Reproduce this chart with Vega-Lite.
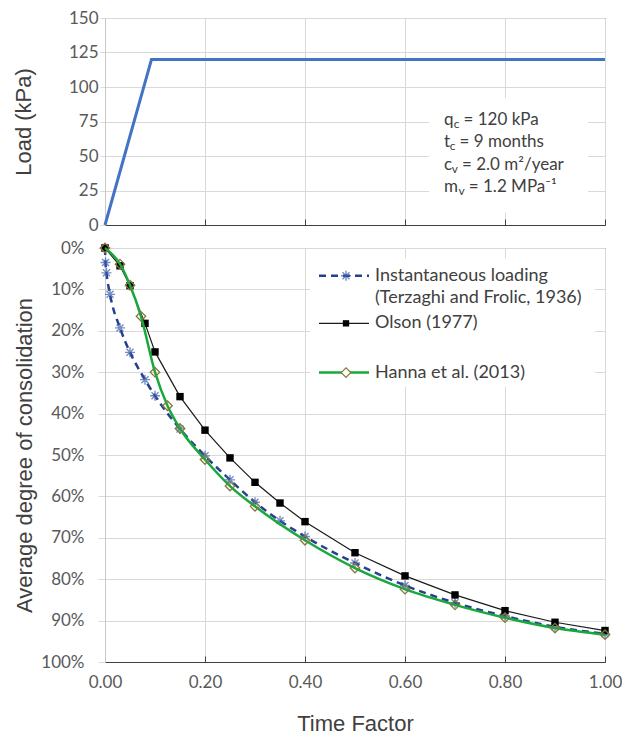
{
  "$schema": "https://vega.github.io/schema/vega-lite/v6.json",
  "padding": {"left": 11, "top": 8, "right": 2, "bottom": 0},
  "spacing": 23,
  "bounds": "flush",
  "config": {
    "view": {"stroke": "#404040", "strokeWidth": 1},
    "axis": {
      "gridColor": "#d9d9d9", "gridWidth": 1, "labelFlush": false,
      "labelFont": "Lato", "labelFontSize": 17, "labelColor": "#595959",
      "titleFont": "Liberation Sans", "titleFontSize": 22, "titleFontWeight": "normal", "titleColor": "#404040"
    },
    "text": {"font": "Lato", "fontSize": 17, "color": "#404040"}
  },
  "datasets": {
    "one": [{}],
    "load": [
      {"T": 0, "q": 0},
      {"T": 0.093, "q": 120},
      {"T": 1.0, "q": 120}
    ],
    "consol": [
      {"series": "Instantaneous", "T": 0, "U": 0},
      {"series": "Instantaneous", "T": 0.001, "U": 3.5},
      {"series": "Instantaneous", "T": 0.003, "U": 6.0},
      {"series": "Instantaneous", "T": 0.01, "U": 11.2},
      {"series": "Instantaneous", "T": 0.03, "U": 19.3},
      {"series": "Instantaneous", "T": 0.05, "U": 25.2},
      {"series": "Instantaneous", "T": 0.08, "U": 31.8},
      {"series": "Instantaneous", "T": 0.1, "U": 35.7},
      {"series": "Instantaneous", "T": 0.15, "U": 43.7},
      {"series": "Instantaneous", "T": 0.2, "U": 50.2},
      {"series": "Instantaneous", "T": 0.25, "U": 56.0},
      {"series": "Instantaneous", "T": 0.3, "U": 61.4},
      {"series": "Instantaneous", "T": 0.35, "U": 65.9},
      {"series": "Instantaneous", "T": 0.4, "U": 69.7},
      {"series": "Instantaneous", "T": 0.5, "U": 76.1},
      {"series": "Instantaneous", "T": 0.6, "U": 81.5},
      {"series": "Instantaneous", "T": 0.7, "U": 85.7},
      {"series": "Instantaneous", "T": 0.8, "U": 88.9},
      {"series": "Instantaneous", "T": 0.9, "U": 91.5},
      {"series": "Instantaneous", "T": 1.0, "U": 93.2},
      {"series": "Olson", "T": 0, "U": 0},
      {"series": "Olson", "T": 0.03, "U": 4.3},
      {"series": "Olson", "T": 0.05, "U": 9.1},
      {"series": "Olson", "T": 0.08, "U": 18.2},
      {"series": "Olson", "T": 0.1, "U": 25.1},
      {"series": "Olson", "T": 0.15, "U": 35.9},
      {"series": "Olson", "T": 0.2, "U": 44.0},
      {"series": "Olson", "T": 0.25, "U": 50.7},
      {"series": "Olson", "T": 0.3, "U": 56.6},
      {"series": "Olson", "T": 0.35, "U": 61.6},
      {"series": "Olson", "T": 0.4, "U": 66.1},
      {"series": "Olson", "T": 0.5, "U": 73.6},
      {"series": "Olson", "T": 0.6, "U": 79.2},
      {"series": "Olson", "T": 0.7, "U": 83.8},
      {"series": "Olson", "T": 0.8, "U": 87.6},
      {"series": "Olson", "T": 0.9, "U": 90.4},
      {"series": "Olson", "T": 1.0, "U": 92.4},
      {"series": "Hanna", "T": 0, "U": 0},
      {"series": "Hanna", "T": 0.03, "U": 3.9},
      {"series": "Hanna", "T": 0.05, "U": 9.0},
      {"series": "Hanna", "T": 0.072, "U": 16.5},
      {"series": "Hanna", "T": 0.1, "U": 30.0},
      {"series": "Hanna", "T": 0.125, "U": 38.1},
      {"series": "Hanna", "T": 0.15, "U": 43.6},
      {"series": "Hanna", "T": 0.2, "U": 51.1},
      {"series": "Hanna", "T": 0.25, "U": 57.5},
      {"series": "Hanna", "T": 0.3, "U": 62.4},
      {"series": "Hanna", "T": 0.4, "U": 70.6},
      {"series": "Hanna", "T": 0.5, "U": 77.3},
      {"series": "Hanna", "T": 0.6, "U": 82.4},
      {"series": "Hanna", "T": 0.7, "U": 86.2},
      {"series": "Hanna", "T": 0.8, "U": 89.3},
      {"series": "Hanna", "T": 0.9, "U": 91.8},
      {"series": "Hanna", "T": 1.0, "U": 93.4}
    ]
  },
  "vconcat": [
    {
      "width": 500,
      "height": 207,
      "layer": [
        {
          "data": {"name": "load"},
          "mark": {"type": "line", "color": "#4472C4", "strokeWidth": 3, "clip": false},
          "encoding": {
            "x": {
              "field": "T", "type": "quantitative",
              "scale": {"domain": [0, 1], "nice": false, "zero": false},
              "axis": {"values": [0, 0.2, 0.4, 0.6, 0.8, 1.0], "labels": false, "title": null,
                       "domainColor": "#404040", "tickColor": "#404040", "tickSize": -6}
            },
            "y": {
              "field": "q", "type": "quantitative",
              "scale": {"domain": [0, 150], "nice": false},
              "axis": {"values": [0, 25, 50, 75, 100, 125, 150], "title": "Load (kPa)",
                       "titleX": -82, "titleY": 103.5, "titleBaseline": "middle",
                       "domainColor": "#c8c8c8", "tickColor": "#d9d9d9", "tickSize": 5, "labelPadding": 2}
            }
          }
        },
        {
          "data": {"name": "one"},
          "mark": {"type": "rect", "fill": "white"},
          "encoding": {
            "x": {"datum": 0.648, "type": "quantitative", "axis": {"values": [0, 0.2, 0.4, 0.6, 0.8, 1.0]}},
            "x2": {"datum": 0.966},
            "y": {"datum": 9, "type": "quantitative", "axis": {"values": [0, 25, 50, 75, 100, 125, 150]}},
            "y2": {"datum": 92}
          }
        },
        {"data": {"name": "one"}, "mark": {"type": "text", "align": "left", "baseline": "middle"},
         "encoding": {"x": {"datum": 0.678, "type": "quantitative", "axis": {"values": [0, 0.2, 0.4, 0.6, 0.8, 1.0]}}, "y": {"datum": 76.3, "type": "quantitative", "axis": {"values": [0, 25, 50, 75, 100, 125, 150]}}, "text": {"value": "q"}}},
        {"data": {"name": "one"}, "mark": {"type": "text", "align": "left", "baseline": "middle", "fontSize": 12, "dx": 9.7, "dy": 4},
         "encoding": {"x": {"datum": 0.678, "type": "quantitative", "axis": {"values": [0, 0.2, 0.4, 0.6, 0.8, 1.0]}}, "y": {"datum": 76.3, "type": "quantitative", "axis": {"values": [0, 25, 50, 75, 100, 125, 150]}}, "text": {"value": "c"}}},
        {"data": {"name": "one"}, "mark": {"type": "text", "align": "left", "baseline": "middle", "dx": 19.5},
         "encoding": {"x": {"datum": 0.678, "type": "quantitative", "axis": {"values": [0, 0.2, 0.4, 0.6, 0.8, 1.0]}}, "y": {"datum": 76.3, "type": "quantitative", "axis": {"values": [0, 25, 50, 75, 100, 125, 150]}}, "text": {"value": "= 120 kPa"}}},
        {"data": {"name": "one"}, "mark": {"type": "text", "align": "left", "baseline": "middle"},
         "encoding": {"x": {"datum": 0.678, "type": "quantitative", "axis": {"values": [0, 0.2, 0.4, 0.6, 0.8, 1.0]}}, "y": {"datum": 59.9, "type": "quantitative", "axis": {"values": [0, 25, 50, 75, 100, 125, 150]}}, "text": {"value": "t"}}},
        {"data": {"name": "one"}, "mark": {"type": "text", "align": "left", "baseline": "middle", "fontSize": 12, "dx": 5.8, "dy": 4},
         "encoding": {"x": {"datum": 0.678, "type": "quantitative", "axis": {"values": [0, 0.2, 0.4, 0.6, 0.8, 1.0]}}, "y": {"datum": 59.9, "type": "quantitative", "axis": {"values": [0, 25, 50, 75, 100, 125, 150]}}, "text": {"value": "c"}}},
        {"data": {"name": "one"}, "mark": {"type": "text", "align": "left", "baseline": "middle", "dx": 15.5},
         "encoding": {"x": {"datum": 0.678, "type": "quantitative", "axis": {"values": [0, 0.2, 0.4, 0.6, 0.8, 1.0]}}, "y": {"datum": 59.9, "type": "quantitative", "axis": {"values": [0, 25, 50, 75, 100, 125, 150]}}, "text": {"value": "= 9 months"}}},
        {"data": {"name": "one"}, "mark": {"type": "text", "align": "left", "baseline": "middle"},
         "encoding": {"x": {"datum": 0.678, "type": "quantitative", "axis": {"values": [0, 0.2, 0.4, 0.6, 0.8, 1.0]}}, "y": {"datum": 43.7, "type": "quantitative", "axis": {"values": [0, 25, 50, 75, 100, 125, 150]}}, "text": {"value": "c"}}},
        {"data": {"name": "one"}, "mark": {"type": "text", "align": "left", "baseline": "middle", "fontSize": 12, "dx": 7.8, "dy": 4},
         "encoding": {"x": {"datum": 0.678, "type": "quantitative", "axis": {"values": [0, 0.2, 0.4, 0.6, 0.8, 1.0]}}, "y": {"datum": 43.7, "type": "quantitative", "axis": {"values": [0, 25, 50, 75, 100, 125, 150]}}, "text": {"value": "v"}}},
        {"data": {"name": "one"}, "mark": {"type": "text", "align": "left", "baseline": "middle", "dx": 18},
         "encoding": {"x": {"datum": 0.678, "type": "quantitative", "axis": {"values": [0, 0.2, 0.4, 0.6, 0.8, 1.0]}}, "y": {"datum": 43.7, "type": "quantitative", "axis": {"values": [0, 25, 50, 75, 100, 125, 150]}}, "text": {"value": "= 2.0 m²/year"}}},
        {"data": {"name": "one"}, "mark": {"type": "text", "align": "left", "baseline": "middle"},
         "encoding": {"x": {"datum": 0.678, "type": "quantitative", "axis": {"values": [0, 0.2, 0.4, 0.6, 0.8, 1.0]}}, "y": {"datum": 27.5, "type": "quantitative", "axis": {"values": [0, 25, 50, 75, 100, 125, 150]}}, "text": {"value": "m"}}},
        {"data": {"name": "one"}, "mark": {"type": "text", "align": "left", "baseline": "middle", "fontSize": 12, "dx": 14.6, "dy": 4},
         "encoding": {"x": {"datum": 0.678, "type": "quantitative", "axis": {"values": [0, 0.2, 0.4, 0.6, 0.8, 1.0]}}, "y": {"datum": 27.5, "type": "quantitative", "axis": {"values": [0, 25, 50, 75, 100, 125, 150]}}, "text": {"value": "v"}}},
        {"data": {"name": "one"}, "mark": {"type": "text", "align": "left", "baseline": "middle", "dx": 24.8},
         "encoding": {"x": {"datum": 0.678, "type": "quantitative", "axis": {"values": [0, 0.2, 0.4, 0.6, 0.8, 1.0]}}, "y": {"datum": 27.5, "type": "quantitative", "axis": {"values": [0, 25, 50, 75, 100, 125, 150]}}, "text": {"value": "= 1.2 MPa⁻¹"}}}
      ]
    },
    {
      "width": 500,
      "height": 414,
      "layer": [
        {
          "data": {"name": "consol"},
          "transform": [{"filter": "datum.series === 'Instantaneous'"}],
          "mark": {"type": "line", "color": "#25408F", "strokeWidth": 2.5, "strokeDash": [7, 5], "interpolate": "monotone", "clip": false},
          "encoding": {
            "x": {
              "field": "T", "type": "quantitative",
              "scale": {"domain": [0, 1], "nice": false, "zero": false},
              "axis": {"values": [0, 0.2, 0.4, 0.6, 0.8, 1.0], "format": ".2f", "title": "Time Factor",
                       "titleY": 61, "titleBaseline": "middle", "labelPadding": 18,
                       "domainColor": "#404040", "tickColor": "#404040", "tickSize": -6}
            },
            "y": {
              "field": "U", "type": "quantitative",
              "scale": {"domain": [0, 100], "nice": false, "reverse": true},
              "axis": {"values": [0, 10, 20, 30, 40, 50, 60, 70, 80, 90, 100], "labelExpr": "datum.value + '%'",
                       "title": "Average degree of consolidation",
                       "titleX": -81, "titleY": 207, "titleBaseline": "middle",
                       "domainColor": "#c8c8c8", "tickColor": "#d9d9d9", "tickSize": 7, "labelPadding": 14}
            }
          }
        },
        {
          "data": {"name": "consol"},
          "transform": [{"filter": "datum.series === 'Instantaneous'"}],
          "mark": {"type": "point", "shape": "M-1,0L1,0M-0.7,-0.7L0.7,0.7M-0.7,0.7L0.7,-0.7M0,-1L0,1", "filled": false, "color": "#3B5BAA", "strokeWidth": 1.4, "size": 100, "clip": false},
          "encoding": {"x": {"field": "T", "type": "quantitative", "axis": {"values": [0, 0.2, 0.4, 0.6, 0.8, 1.0]}}, "y": {"field": "U", "type": "quantitative", "axis": {"values": [0, 10, 20, 30, 40, 50, 60, 70, 80, 90, 100]}}}
        },
        {
          "data": {"name": "consol"},
          "transform": [{"filter": "datum.series === 'Olson'"}],
          "mark": {"type": "line", "color": "#1a1a1a", "strokeWidth": 1.2, "clip": false},
          "encoding": {"x": {"field": "T", "type": "quantitative", "axis": {"values": [0, 0.2, 0.4, 0.6, 0.8, 1.0]}}, "y": {"field": "U", "type": "quantitative", "axis": {"values": [0, 10, 20, 30, 40, 50, 60, 70, 80, 90, 100]}}}
        },
        {
          "data": {"name": "consol"},
          "transform": [{"filter": "datum.series === 'Olson'"}],
          "mark": {"type": "point", "shape": "square", "filled": true, "color": "#000000", "size": 55, "opacity": 1, "clip": false},
          "encoding": {"x": {"field": "T", "type": "quantitative", "axis": {"values": [0, 0.2, 0.4, 0.6, 0.8, 1.0]}}, "y": {"field": "U", "type": "quantitative", "axis": {"values": [0, 10, 20, 30, 40, 50, 60, 70, 80, 90, 100]}}}
        },
        {
          "data": {"name": "consol"},
          "transform": [{"filter": "datum.series === 'Hanna'"}],
          "mark": {"type": "line", "color": "#18A83D", "strokeWidth": 2.5, "interpolate": "monotone", "clip": false},
          "encoding": {"x": {"field": "T", "type": "quantitative", "axis": {"values": [0, 0.2, 0.4, 0.6, 0.8, 1.0]}}, "y": {"field": "U", "type": "quantitative", "axis": {"values": [0, 10, 20, 30, 40, 50, 60, 70, 80, 90, 100]}}}
        },
        {
          "data": {"name": "consol"},
          "transform": [{"filter": "datum.series === 'Hanna'"}],
          "mark": {"type": "point", "shape": "diamond", "filled": false, "color": "#807a3c", "strokeWidth": 1.3, "size": 90, "opacity": 1, "clip": false},
          "encoding": {"x": {"field": "T", "type": "quantitative", "axis": {"values": [0, 0.2, 0.4, 0.6, 0.8, 1.0]}}, "y": {"field": "U", "type": "quantitative", "axis": {"values": [0, 10, 20, 30, 40, 50, 60, 70, 80, 90, 100]}}}
        },
        {
          "data": {"name": "one"},
          "mark": {"type": "rect", "fill": "white"},
          "encoding": {
            "x": {"datum": 0.41, "type": "quantitative", "axis": {"values": [0, 0.2, 0.4, 0.6, 0.8, 1.0]}},
            "x2": {"datum": 0.98},
            "y": {"datum": 2.5, "type": "quantitative", "axis": {"values": [0, 10, 20, 30, 40, 50, 60, 70, 80, 90, 100]}},
            "y2": {"datum": 33.5}
          }
        },
        {
          "data": {"name": "one"},
          "mark": {"type": "rule", "color": "#25408F", "strokeWidth": 2.5, "strokeDash": [7, 5]},
          "encoding": {"x": {"datum": 0.428, "type": "quantitative", "axis": {"values": [0, 0.2, 0.4, 0.6, 0.8, 1.0]}}, "x2": {"datum": 0.528}, "y": {"datum": 6.7, "type": "quantitative", "axis": {"values": [0, 10, 20, 30, 40, 50, 60, 70, 80, 90, 100]}}}
        },
        {
          "data": {"name": "one"},
          "mark": {"type": "point", "shape": "M-1,0L1,0M-0.7,-0.7L0.7,0.7M-0.7,0.7L0.7,-0.7M0,-1L0,1", "filled": false, "color": "#3B5BAA", "strokeWidth": 1.4, "size": 100},
          "encoding": {"x": {"datum": 0.482, "type": "quantitative", "axis": {"values": [0, 0.2, 0.4, 0.6, 0.8, 1.0]}}, "y": {"datum": 6.7, "type": "quantitative", "axis": {"values": [0, 10, 20, 30, 40, 50, 60, 70, 80, 90, 100]}}}
        },
        {
          "data": {"name": "one"},
          "mark": {"type": "rule", "color": "#1a1a1a", "strokeWidth": 1.2},
          "encoding": {"x": {"datum": 0.428, "type": "quantitative", "axis": {"values": [0, 0.2, 0.4, 0.6, 0.8, 1.0]}}, "x2": {"datum": 0.528}, "y": {"datum": 18.2, "type": "quantitative", "axis": {"values": [0, 10, 20, 30, 40, 50, 60, 70, 80, 90, 100]}}}
        },
        {
          "data": {"name": "one"},
          "mark": {"type": "point", "shape": "square", "filled": true, "color": "#000000", "size": 40, "opacity": 1},
          "encoding": {"x": {"datum": 0.482, "type": "quantitative", "axis": {"values": [0, 0.2, 0.4, 0.6, 0.8, 1.0]}}, "y": {"datum": 18.2, "type": "quantitative", "axis": {"values": [0, 10, 20, 30, 40, 50, 60, 70, 80, 90, 100]}}}
        },
        {
          "data": {"name": "one"},
          "mark": {"type": "rule", "color": "#18A83D", "strokeWidth": 2.5},
          "encoding": {"x": {"datum": 0.428, "type": "quantitative", "axis": {"values": [0, 0.2, 0.4, 0.6, 0.8, 1.0]}}, "x2": {"datum": 0.528}, "y": {"datum": 30.1, "type": "quantitative", "axis": {"values": [0, 10, 20, 30, 40, 50, 60, 70, 80, 90, 100]}}}
        },
        {
          "data": {"name": "one"},
          "mark": {"type": "point", "shape": "diamond", "filled": true, "fill": "white", "stroke": "#807a3c", "strokeWidth": 1.3, "size": 90, "opacity": 1},
          "encoding": {"x": {"datum": 0.482, "type": "quantitative", "axis": {"values": [0, 0.2, 0.4, 0.6, 0.8, 1.0]}}, "y": {"datum": 30.1, "type": "quantitative", "axis": {"values": [0, 10, 20, 30, 40, 50, 60, 70, 80, 90, 100]}}}
        },
        {"data": {"name": "one"}, "mark": {"type": "text", "align": "left", "baseline": "middle", "fontSize": 18},
         "encoding": {"x": {"datum": 0.54, "type": "quantitative", "axis": {"values": [0, 0.2, 0.4, 0.6, 0.8, 1.0]}}, "y": {"datum": 6.7, "type": "quantitative", "axis": {"values": [0, 10, 20, 30, 40, 50, 60, 70, 80, 90, 100]}}, "text": {"value": "Instantaneous loading"}}},
        {"data": {"name": "one"}, "mark": {"type": "text", "align": "left", "baseline": "middle", "fontSize": 18},
         "encoding": {"x": {"datum": 0.54, "type": "quantitative", "axis": {"values": [0, 0.2, 0.4, 0.6, 0.8, 1.0]}}, "y": {"datum": 12.0, "type": "quantitative", "axis": {"values": [0, 10, 20, 30, 40, 50, 60, 70, 80, 90, 100]}}, "text": {"value": "(Terzaghi and Frolic, 1936)"}}},
        {"data": {"name": "one"}, "mark": {"type": "text", "align": "left", "baseline": "middle", "fontSize": 18},
         "encoding": {"x": {"datum": 0.54, "type": "quantitative", "axis": {"values": [0, 0.2, 0.4, 0.6, 0.8, 1.0]}}, "y": {"datum": 18.2, "type": "quantitative", "axis": {"values": [0, 10, 20, 30, 40, 50, 60, 70, 80, 90, 100]}}, "text": {"value": "Olson (1977)"}}},
        {"data": {"name": "one"}, "mark": {"type": "text", "align": "left", "baseline": "middle", "fontSize": 18},
         "encoding": {"x": {"datum": 0.54, "type": "quantitative", "axis": {"values": [0, 0.2, 0.4, 0.6, 0.8, 1.0]}}, "y": {"datum": 30.1, "type": "quantitative", "axis": {"values": [0, 10, 20, 30, 40, 50, 60, 70, 80, 90, 100]}}, "text": {"value": "Hanna et al.  (2013)"}}}
      ]
    }
  ]
}
